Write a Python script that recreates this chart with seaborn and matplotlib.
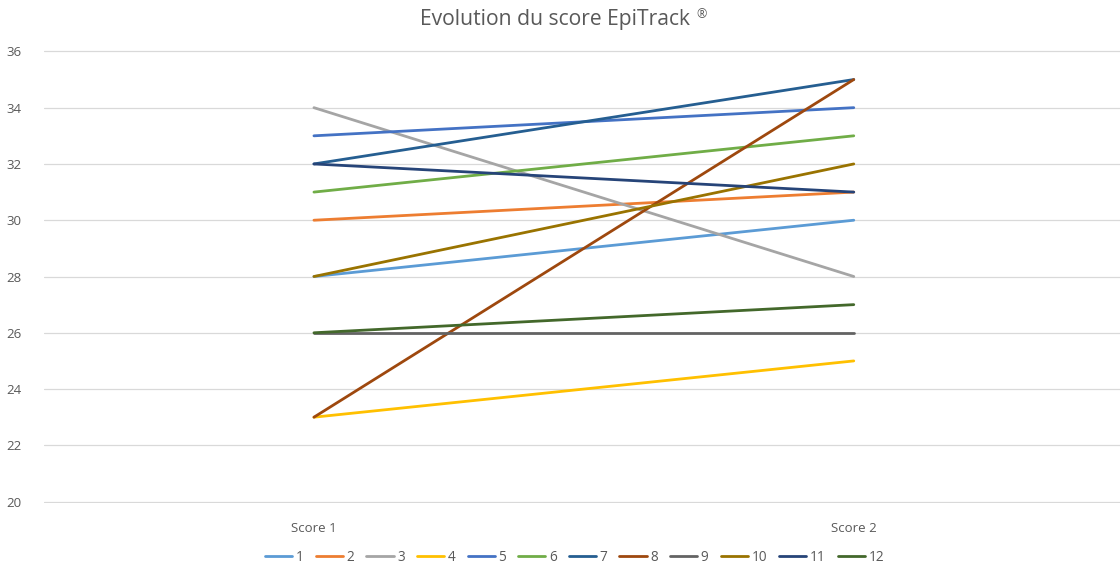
import matplotlib
matplotlib.use("Agg")
import matplotlib.pyplot as plt
import seaborn as sns
import pandas as pd

categories = ["Score 1", "Score 2"]
series_names = ["1", "2", "3", "4", "5", "6", "7", "8", "9", "10", "11", "12"]
score1 = [28, 30, 34, 23, 33, 31, 32, 23, 26, 28, 32, 26]
score2 = [30, 31, 28, 25, 34, 33, 35, 35, 26, 32, 31, 27]
colors = ["#5B9BD5", "#ED7D31", "#A5A5A5", "#FFC000", "#4472C4", "#70AD47",
          "#255E91", "#9E480E", "#636363", "#997300", "#264478", "#43682B"]
y_ticks = [20, 22, 24, 26, 28, 30, 32, 34, 36]

sns.set_style("white")
plt.rcParams['font.family'] = ['Open Sans', 'DejaVu Sans']

rows = []
for name, a, b in zip(series_names, score1, score2):
    rows.append({"serie": name, "x": 0, "score": a})
    rows.append({"serie": name, "x": 1, "score": b})
df = pd.DataFrame(rows)

fig = plt.figure(figsize=(11.2, 5.68), dpi=100)
ax = fig.add_axes([0.0393, 0.1144, 0.964, 0.7976])

sns.lineplot(data=df, x="x", y="score", hue="serie", hue_order=series_names,
             palette=colors, linewidth=2.0, ax=ax, legend=True, sort=False,
             estimator=None)

ax.set_xlim(-0.5, 1.5)
ax.set_ylim(19.95, 36.05)
ax.set_yticks(y_ticks)
ax.set_yticklabels([str(v) for v in y_ticks])
ax.set_xticks([0, 1])
ax.set_xticklabels(categories)
ax.set_xlabel("")
ax.set_ylabel("")
ax.grid(axis="y", color="#D9D9D9", linewidth=0.9)
ax.set_axisbelow(True)
for s in ax.spines.values():
    s.set_visible(False)
ax.tick_params(axis="both", length=0, labelsize=9.5, labelcolor="#595959")
ax.tick_params(axis="y", pad=16)
ax.tick_params(axis="x", pad=14)

fig.text(0.6165, 0.965, "Evolution du score EpiTrack", ha="right", va="center",
         fontsize=15.2, color="#595959")
fig.text(0.622, 0.974, "®", ha="left", va="center", fontsize=9, color="#595959")

handles, labels = ax.get_legend_handles_labels()
ax.legend(handles, labels, loc="center", bbox_to_anchor=(0.513, 0.019),
          bbox_transform=fig.transFigure,
          ncol=12, frameon=False, fontsize=9.8, handlelength=2.0, handletextpad=0.25,
          columnspacing=0.9, labelcolor="#595959")

fig.savefig("out.png", dpi=100)
